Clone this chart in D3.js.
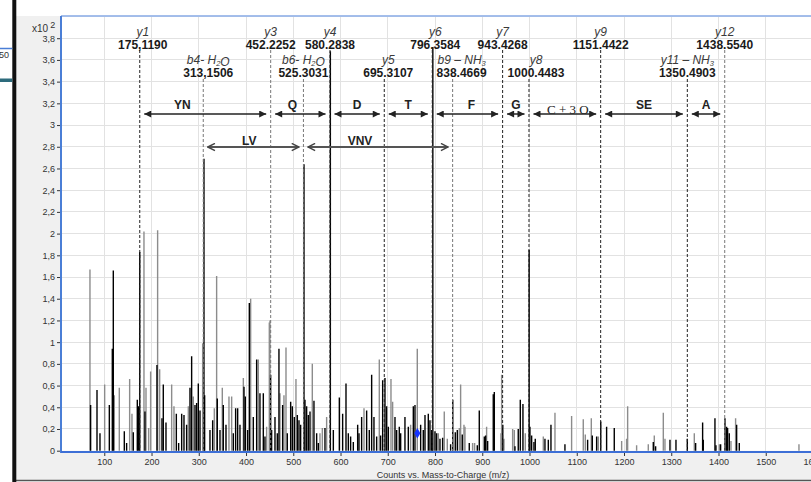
<!DOCTYPE html>
<html>
<head>
<meta charset="utf-8">
<script src="https://cdn.jsdelivr.net/npm/d3@7"></script>
<style>
  body { margin: 0; background: #fff; }
  svg { display: block; font-family: "Liberation Sans", Arial, sans-serif; }
</style>
</head>
<body>
<svg id="chart" width="811" height="482"></svg>
<script>
// peaks, intensity in x10^2 counts
var blackPeaks = [
  [71.1,0.42],[84.6,0.56],[90.9,0.16],[110.7,0.42],[117.0,0.94],[119.1,1.66],[142.4,0.18],[147.3,0.07],
  [161.4,0.17],[169.9,0.47],[172.0,0.41],[175.1,1.83],[186.1,0.36],[211.5,0.79],[222.1,0.30],[224.9,0.61],
  [230.6,0.26],[252.5,0.34],[257.4,0.07],[263.8,0.34],[268.7,0.33],[274.3,0.24],[281.4,0.58],[284.9,0.87],
  [292.0,0.42],[295.5,0.44],[299.0,0.62],[302.6,0.37],[311.0,2.69],[312.4,0.51],[323.7,0.19],[329.4,0.28],
  [339.2,0.48],[344.9,0.19],[351.9,0.42],[357.6,0.24],[373.1,0.16],[378.0,0.39],[382.3,0.39],[387.2,0.24],
  [395.7,0.59],[398.5,0.50],[403.4,0.19],[407.0,1.36],[415.4,0.31],[422.5,0.84],[429.5,0.53],[436.6,0.53],
  [440.1,0.13],[452.1,0.70],[454.2,0.19],[461.3,0.31],[466.2,0.16],[469.7,0.94],[477.5,0.42],[487.4,0.16],
  [494.5,0.45],[498.0,0.41],[502.2,0.31],[508.6,0.33],[512.1,0.28],[515.6,0.24],[522.7,2.64],[524.8,0.47],
  [528.3,0.41],[531.8,0.33],[535.4,0.36],[543.8,0.46],[549.5,0.16],[553.0,0.07],[567.1,0.21],[578.5,3.68],
  [584.8,0.19],[597.5,0.49],[604.5,0.34],[611.6,0.62],[616.5,0.16],[621.4,0.13],[627.1,0.08],[636.3,0.24],
  [639.1,0.16],[644.7,0.31],[655.3,0.37],[660.9,0.19],[665.9,0.70],[670.8,0.31],[676.5,0.13],[684.9,0.14],
  [689.2,0.65],[694.1,0.67],[697.6,0.41],[701.2,0.22],[715.3,0.31],[718.8,0.19],[724.4,0.22],[727.3,0.16],
  [736.4,0.31],[743.5,0.22],[754.1,0.41],[757.6,0.42],[769.6,0.24],[775.2,0.19],[778.8,0.33],[785.8,0.34],
  [789.3,0.28],[792.8,0.19],[795.4,3.72],[799.9,0.18],[803.4,0.16],[810.5,0.11],[816.1,0.12],[833.0,0.06],
  [837.6,0.47],[842.9,0.17],[847.2,0.19],[857.7,0.15],[872.5,0.07],[889.5,0.05],[893.7,0.37],[904.3,0.13],
  [907.1,0.14],[911.4,0.09],[923.3,0.52],[925.5,0.54],[943.4,0.24],[969.2,0.04],[976.2,0.20],[980.5,0.47],
  [986.1,0.43],[999.2,1.85],[1000.9,0.22],[1004.5,0.14],[1009.4,0.08],[1012.2,0.11],[1032.7,0.11],[1039.8,0.10],
  [1045.4,0.24],[1075.0,0.06],[1123.0,0.10],[1132.9,0.14],[1142.1,0.13],[1150.8,0.27],[1163.2,0.22],[1179.4,0.21],
  [1262.0,0.08],[1266.9,0.04],[1297.3,0.10],[1310.0,0.10],[1334.0,0.11],[1351.6,0.07],[1366.4,0.26],[1367.8,0.10],
  [1392.5,0.30],[1394.6,0.05],[1404.5,0.06],[1413.7,0.30],[1417.2,0.22],[1419.3,0.21],[1422.8,0.16],[1438.4,0.24],
  [1444.0,0.07]
];
var grayPeaks = [
  [69.7,1.67],[100.8,0.61],[121.2,0.51],[131.8,0.58],[153.7,0.66],[158.6,0.34],[184.0,2.02],[188.3,0.58],
  [193.9,0.21],[198.1,0.73],[212.9,2.03],[217.2,0.75],[242.6,0.61],[247.5,0.41],[277.9,0.41],[288.4,0.50],
  [308.2,0.99],[332.9,0.39],[337.8,1.61],[349.8,0.58],[363.9,0.50],[369.6,0.50],[394.3,0.67],[409.8,1.40],
  [426.0,0.84],[443.6,0.22],[449.3,1.18],[450.7,1.20],[471.9,0.53],[480.3,0.51],[484.6,0.95],[505.7,0.66],
  [540.3,0.80],[556.5,0.16],[561.5,0.21],[570.6,0.31],[649.7,0.39],[682.1,0.84],[706.8,0.66],[710.3,0.45],
  [748.4,0.24],[762.5,0.94],[807.0,0.16],[819.6,0.36],[826.0,0.11],[851.4,0.21],[854.2,0.61],[861.3,0.24],
  [863.4,0.22],[879.6,0.07],[883.8,0.07],[909.2,0.22],[939.6,0.16],[941.0,0.70],[945.9,0.11],[964.3,0.20],
  [967.8,0.19],[991.1,0.16],[1029.2,0.13],[1053.9,0.35],[1089.1,0.32],[1113.8,0.29],[1118.1,0.15],[1130.8,0.30],
  [1145.6,0.13],[1195.0,0.09],[1205.5,0.11],[1207.7,0.41],[1226.7,0.05],[1251.4,0.06],[1264.1,0.14],[1283.2,0.35],
  [1286.7,0.11],[1348.8,0.16],[1401.7,0.06],[1426.4,0.09],[1436.2,0.30],[1570.3,0.06]
];
var precursor = [762.6, 0.16];

// fragment ion annotations ("_" marks a subscript digit)
var ionNames  = ["y1", "b4- H_2O", "y3", "b6- H_2O", "y4", "y5", "y6", "b9 \u2013 NH_3", "y7", "y8", "y9", "y11 \u2013 NH_3", "y12"];
var ionMz     = [175.1, 309.5, 452.2, 521.5, 577.8, 692.6, 794.2, 837.3, 943.1, 998.9, 1150.6, 1334.0, 1413.2];
var ionValues = ["175,1190", "313,1506", "452.2252", "525.3031", "580.2838", "695.3107", "796.3584",
                 "838.4669", "943.4268", "1000.4483", "1151.4422", "1350.4903", "1438.5540"];
var ionRow    = [0, 1, 0, 1, 0, 1, 0, 1, 0, 1, 0, 1, 0];

// residue gaps between ions
var spanLabels = ["YN", "Q", "D", "T", "F", "G", "C + 3 O", "SE", "A", "LV", "VNV"];
var spanFrom   = ["y1", "y3", "y4", "y5", "y6", "y7", "y8", "y9", "y11 \u2013 NH_3", "b4- H_2O", "b6- H_2O"];
var spanTo     = ["y3", "y4", "y5", "y6", "y7", "y8", "y9", "y11 \u2013 NH_3", "y12", "b6- H_2O", "b9 \u2013 NH_3"];
var spanRow    = [0, 0, 0, 0, 0, 0, 0, 0, 0, 1, 1];

var yTicks = d3.range(0, 20).map(function(i) { return +(i * 0.2).toFixed(1); });
var xTicks = d3.range(100, 1700, 100);

// layout / style tweaks
var ionShift  = {"y1": 3, "b4- H_2O": 5, "y5": 4, "y6": 3, "b9 \u2013 NH_3": 9, "y8": 7};
var spanShift = {"YN": -23, "Q": -8, "F": 4, "C + 3 O": 3, "LV": -4, "VNV": -18};
var lightIons = ["b4- H_2O", "y3", "b6- H_2O", "b9 \u2013 NH_3", "y12"];

var W = 811, H = 482;
var m = {left: 61, top: 16.5, right: 830, bottom: 450.7};

var x = d3.scaleLinear().domain([8.4, 1636]).range([m.left, m.right]);
var y = d3.scaleLinear().domain([0, 4]).range([m.bottom, m.top]);

var svg = d3.select("#chart");
var defs = svg.append("defs");

defs.append("clipPath").attr("id", "plotClip")
    .append("rect").attr("x", m.left).attr("y", m.top)
    .attr("width", W - m.left).attr("height", m.bottom - m.top + 1);

defs.append("marker").attr("id", "headFill")
    .attr("viewBox", "0 0 10 10").attr("refX", 10).attr("refY", 5)
    .attr("markerWidth", 8).attr("markerHeight", 7)
    .attr("markerUnits", "userSpaceOnUse").attr("orient", "auto-start-reverse")
  .append("path").attr("d", "M0,0L10,5L0,10Z").attr("fill", "#222");

defs.append("marker").attr("id", "headOpen")
    .attr("viewBox", "0 0 10 10").attr("refX", 9).attr("refY", 5)
    .attr("markerWidth", 9).attr("markerHeight", 9)
    .attr("markerUnits", "userSpaceOnUse").attr("orient", "auto-start-reverse")
  .append("path").attr("d", "M1,1L9,5L1,9").attr("fill", "none")
    .attr("stroke", "#444").attr("stroke-width", 1.6);

// window chrome
svg.append("rect").attr("width", W).attr("height", H).attr("fill", "#fff");
svg.append("rect").attr("x", 16).attr("y", 16).attr("width", W - 16).attr("height", 464).attr("fill", "#f0f0f0");
svg.append("line").attr("x1", 16).attr("x2", W).attr("y1", 480.5).attr("y2", 480.5)
    .attr("stroke", "#555").attr("stroke-width", 1.5);
svg.append("rect").attr("x", 12.3).attr("y", 0).attr("width", 4).attr("height", H).attr("fill", "#111");

// bit of the neighbouring panel
svg.append("line").attr("x1", 0).attr("x2", 12.3).attr("y1", 48.5).attr("y2", 48.5)
    .attr("stroke", "#4a7ed6").attr("stroke-width", 1.5);
svg.append("text").attr("x", -1).attr("y", 58).attr("font-size", 9).attr("fill", "#333").text("50");
svg.append("rect").attr("x", 0).attr("y", 78.5).attr("width", 12.3).attr("height", 3.5).attr("fill", "#2d6b7c");

// plot area
svg.append("rect").attr("x", m.left).attr("y", m.top)
    .attr("width", W - m.left).attr("height", m.bottom - m.top).attr("fill", "#fff");

var grid = svg.append("g").attr("stroke", "#e2e2e2").attr("stroke-width", 1).attr("shape-rendering", "crispEdges");
grid.selectAll("line.h").data(yTicks.slice(1)).join("line")
    .attr("x1", m.left).attr("x2", W).attr("y1", function(d) { return y(d); }).attr("y2", function(d) { return y(d); });
grid.selectAll("line.v").data(xTicks).join("line")
    .attr("x1", function(d) { return x(d); }).attr("x2", function(d) { return x(d); })
    .attr("y1", m.top).attr("y2", m.bottom);

var plot = svg.append("g").attr("clip-path", "url(#plotClip)");

plot.append("g").selectAll("line").data(grayPeaks).join("line")
    .attr("x1", function(d) { return x(d[0]); }).attr("x2", function(d) { return x(d[0]); })
    .attr("y1", y(0)).attr("y2", function(d) { return y(d[1]); })
    .attr("stroke", "#8c8c8c").attr("stroke-width", 1.4);

plot.append("g").selectAll("line").data(blackPeaks).join("line")
    .attr("x1", function(d) { return x(d[0]); }).attr("x2", function(d) { return x(d[0]); })
    .attr("y1", y(0)).attr("y2", function(d) { return y(d[1]); })
    .attr("stroke", "#000").attr("stroke-width", 1.4);

// ion marker lines
var ions = ionNames.map(function(n, i) {
  return {name: n, mz: ionMz[i], value: ionValues[i], row: ionRow[i]};
});
var ionX = {};
ions.forEach(function(d) { ionX[d.name] = x(d.mz); });

var rowTop = [50, 79];
plot.append("g").selectAll("line").data(ions).join("line")
    .attr("x1", function(d) { return x(d.mz); }).attr("x2", function(d) { return x(d.mz); })
    .attr("y1", function(d) { return rowTop[d.row]; }).attr("y2", y(0))
    .attr("stroke", function(d) { return lightIons.indexOf(d.name) >= 0 ? "#777" : "#222"; })
    .attr("stroke-width", 1).attr("stroke-dasharray", "3,2");

// ion labels
var nameBase = [35.5, 63.5], valueBase = [48.5, 77];
var lab = svg.append("g").attr("text-anchor", "middle");
ions.forEach(function(d) {
  var cx = x(d.mz) + (ionShift[d.name] || 0);
  var t = lab.append("text").attr("x", cx).attr("y", nameBase[d.row])
      .attr("font-size", 12).attr("font-style", "italic").attr("fill", "#3a3a3a");
  d.name.split(/_(\d)/).forEach(function(part, k) {
    if (!part) return;
    if (k % 2 === 1) {
      t.append("tspan").attr("font-size", 7.5).attr("dy", 2).text(part);
      t.append("tspan").attr("dy", -2).text("");
    } else {
      t.append("tspan").text(part);
    }
  });
  lab.append("text").attr("x", cx).attr("y", valueBase[d.row])
      .attr("font-size", 12).attr("font-weight", "bold").attr("fill", "#1a1a1a").text(d.value);
});

// residue spans
var spans = spanLabels.map(function(l, i) {
  return {label: l, from: spanFrom[i], to: spanTo[i], row: spanRow[i]};
});
var gap = 4.5, arrowY = [114, 147], spanBase = [108.5, 145];
var sp = svg.append("g");
spans.forEach(function(d) {
  var x1 = ionX[d.from] + gap, x2 = ionX[d.to] - gap;
  sp.append("line").attr("x1", x1).attr("x2", x2).attr("y1", arrowY[d.row]).attr("y2", arrowY[d.row])
      .attr("stroke", d.row ? "#555" : "#222").attr("stroke-width", d.row ? 2 : 1.5)
      .attr("marker-start", d.row ? "url(#headOpen)" : "url(#headFill)")
      .attr("marker-end", d.row ? "url(#headOpen)" : "url(#headFill)");
  var serif = d.label.indexOf("+") >= 0;
  sp.append("text").attr("x", (x1 + x2) / 2 + (spanShift[d.label] || 0))
      .attr("y", serif ? arrowY[d.row] - 0.5 : spanBase[d.row])
      .attr("text-anchor", "middle")
      .attr("font-family", serif ? "'Liberation Serif', 'Times New Roman', serif" : null)
      .attr("font-size", serif ? 13 : 12)
      .attr("font-weight", serif ? "normal" : "bold")
      .attr("fill", "#222").text(d.label);
});

// precursor marker
svg.append("path")
    .attr("d", d3.symbol().type(d3.symbolDiamond).size(32))
    .attr("transform", "translate(" + x(precursor[0]) + "," + y(precursor[1]) + ")")
    .attr("fill", "#1433ff");

// axes
var yAxis = d3.axisLeft(y).tickValues(yTicks).tickSize(4).tickPadding(2)
    .tickFormat(function(d) { return String(d).replace(".", ","); });
var gy = svg.append("g").attr("transform", "translate(" + m.left + ",0)").call(yAxis);
gy.select(".domain").remove();
gy.selectAll("line").attr("stroke", "#333");
gy.selectAll("text").attr("font-size", 9).attr("fill", "#333").attr("font-family", null);

var xAxis = d3.axisBottom(x).tickValues(xTicks).tickSize(4).tickPadding(3).tickFormat(d3.format("d"));
var gx = svg.append("g").attr("transform", "translate(0,452)").call(xAxis);
gx.select(".domain").remove();
gx.selectAll("line").attr("stroke", "#333");
gx.selectAll("text").attr("font-size", 9).attr("fill", "#333").attr("font-family", null);

var mult = svg.append("text").attr("x", 32).attr("y", 31.5).attr("font-size", 10).attr("fill", "#333");
mult.append("tspan").text("x10");
mult.append("tspan").attr("dx", 2).attr("dy", -4).attr("font-size", 9).text("2");

svg.append("text").attr("x", 443).attr("y", 477.5).attr("text-anchor", "middle")
    .attr("font-size", 9).attr("fill", "#333").text("Counts vs. Mass-to-Charge (m/z)");

// blue plot frame
svg.append("line").attr("x1", m.left).attr("x2", W).attr("y1", 16).attr("y2", 16)
    .attr("stroke", "#86a8e4").attr("stroke-width", 1.5);
svg.append("line").attr("x1", m.left).attr("x2", m.left).attr("y1", 16).attr("y2", 453)
    .attr("stroke", "#4a7ed6").attr("stroke-width", 2);
svg.append("line").attr("x1", m.left).attr("x2", W).attr("y1", 452).attr("y2", 452)
    .attr("stroke", "#3d6fd6").attr("stroke-width", 2);
</script>
</body>
</html>
